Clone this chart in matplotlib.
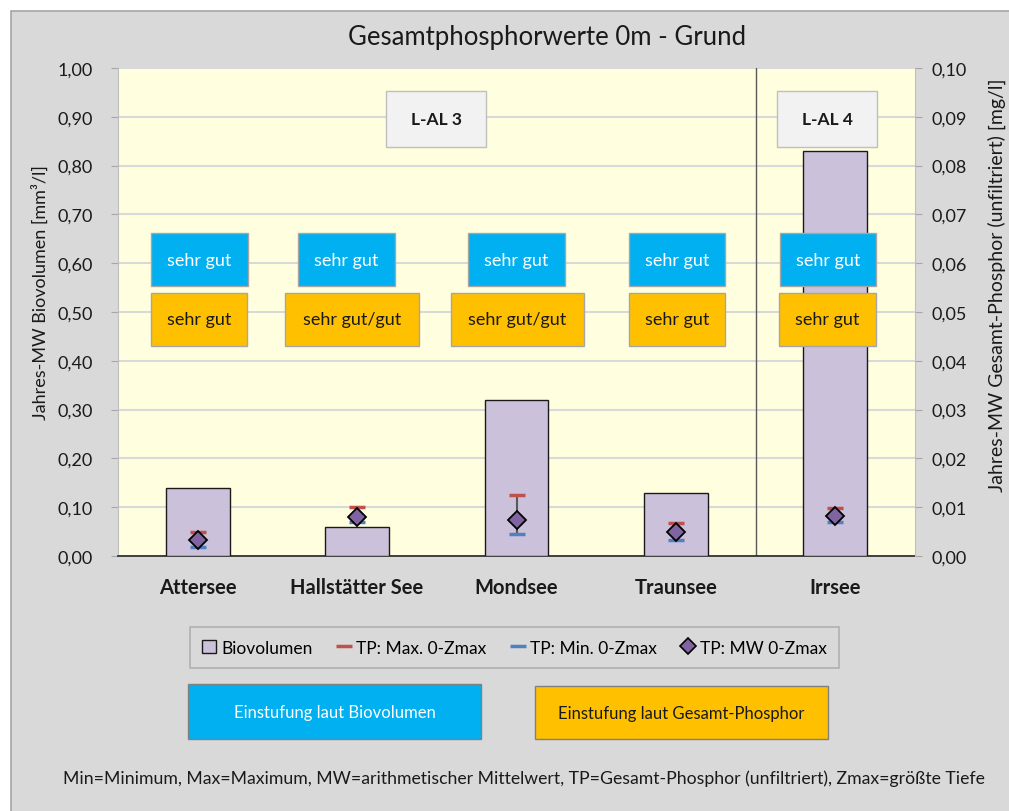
import matplotlib.pyplot as plt
from matplotlib.patches import Rectangle
from matplotlib.lines import Line2D

plt.rcParams['font.family'] = ['Lato', 'DejaVu Sans']

# data
lakes = ["Attersee", "Hallstätter See", "Mondsee", "Traunsee", "Irrsee"]
biovolumen = [0.14, 0.06, 0.32, 0.13, 0.83]          # mm³/l (left axis)
tp_max = [0.0050, 0.0101, 0.0125, 0.0067, 0.0098]     # mg/l (right axis)
tp_min = [0.0018, 0.0070, 0.0045, 0.0033, 0.0070]
tp_mw = [0.0033, 0.0079, 0.0074, 0.0049, 0.0081]
class_bio = ["sehr gut", "sehr gut", "sehr gut", "sehr gut", "sehr gut"]
class_tp = ["sehr gut", "sehr gut/gut", "sehr gut/gut", "sehr gut", "sehr gut"]
groups = ["L-AL 3", "L-AL 4"]

# box placement (data units), as drawn in the original
bio_box_x = [0.011, 0.934, 2.0, 3.007, 3.954]
tp_box_x = [0.008, 0.968, 2.006, 3.007, 3.951]
group_box_x = [1.495, 3.95]

W, H = 1009, 812
fig = plt.figure(figsize=(W / 100, H / 100), dpi=100)
fig.patch.set_facecolor("white")

# chart area background
fig.patches.append(Rectangle((11 / W, -0.05), 1.1, 1 - 12 / H + 0.05,
                             transform=fig.transFigure, facecolor="#d9d9d9",
                             edgecolor="#a6a6a6", lw=1.2, zorder=-10))

ax = fig.add_axes([118 / W, 1 - 557 / H, (915 - 118) / W, (557 - 69) / H])
ax.set_facecolor("#ffffe0")
x = range(len(lakes))

ax.bar(x, biovolumen, width=0.4, color="#ccc1da", edgecolor="#1a1a1a", lw=1, zorder=3)
ax.set_xlim(-0.5, 4.5)
ax.set_ylim(0, 1.0)
ax.set_yticks([i / 10 for i in range(11)])
ax.set_yticklabels([f"{i / 10:.2f}".replace(".", ",") for i in range(11)], fontsize=13, color="#1a1a1a")
ax.set_xticks(list(x))
ax.set_xticklabels(lakes, fontsize=14.5, fontweight="bold", color="#1a1a1a")
ax.tick_params(axis="x", length=0, pad=15)
ax.tick_params(axis="y", length=5, color="#a6a6a6", pad=13)
ax.grid(axis="y", color="#d9d9d9", lw=1.5, zorder=0)
ax.set_axisbelow(True)
for s in ["top", "right"]:
    ax.spines[s].set_visible(False)
ax.spines["left"].set_color("#bfbfbf")
ax.spines["bottom"].set_color("#262626")
ax.spines["bottom"].set_linewidth(1.2)

# separator between groups
ax.axvline(3.5, color="#595959", lw=1, zorder=2)

# right axis (TP)
ax2 = ax.twinx()
ax2.set_ylim(0, 0.1)
ax2.set_yticks([i / 100 for i in range(11)])
ax2.set_yticklabels([f"{i / 100:.2f}".replace(".", ",") for i in range(11)], fontsize=13, color="#1a1a1a")
ax2.tick_params(axis="y", length=5, color="#a6a6a6", pad=7)
for s in ["top", "left", "bottom"]:
    ax2.spines[s].set_visible(False)
ax2.spines["right"].set_color("#bfbfbf")

ax2.vlines(x, tp_min, tp_max, color="#595959", lw=1.5, zorder=4)
ax2.plot(x, tp_max, ls="none", marker="_", ms=11, mew=2.5, color="#c0504d", zorder=5)
ax2.plot(x, tp_min, ls="none", marker="_", ms=11, mew=2.5, color="#4f81bd", zorder=5)
ax2.plot(x, tp_mw, ls="none", marker="D", ms=9, color="#8064a2", mec="black", mew=1.3, zorder=6)

# classification boxes
for i in x:
    bw = 0.608
    ax.add_patch(Rectangle((bio_box_x[i] - bw / 2, 0.553), bw, 0.109, facecolor="#00b0f0",
                           edgecolor="#a6a6a6", lw=1, zorder=7))
    ax.text(bio_box_x[i], 0.6075, class_bio[i], ha="center", va="center", fontsize=13,
            color="white", zorder=8)
    ow = 0.84 if "/" in class_tp[i] else 0.608
    ax.add_patch(Rectangle((tp_box_x[i] - ow / 2, 0.431), ow, 0.108, facecolor="#ffc000",
                           edgecolor="#a6a6a6", lw=1, zorder=7))
    ax.text(tp_box_x[i], 0.485, class_tp[i], ha="center", va="center", fontsize=13,
            color="#1a1a1a", zorder=8)

for g, c in zip(groups, group_box_x):
    ax.add_patch(Rectangle((c - 0.313, 0.838), 0.627, 0.115, facecolor="#f2f2f2",
                           edgecolor="#bfbfbf", lw=1, zorder=7))
    ax.text(c, 0.8955, g, ha="center", va="center", fontsize=12.5, fontweight="bold",
            color="#1a1a1a", zorder=8)

fig.text(547 / W, 1 - 37 / H, "Gesamtphosphorwerte 0m - Grund", ha="center", va="center",
         fontsize=18.5, color="#1a1a1a")
fig.text(40 / W, 1 - 293 / H, "Jahres-MW Biovolumen [mm³/l]", ha="center", va="center",
         rotation=90, fontsize=13, color="#1a1a1a")
fig.text(997 / W, 1 - 285 / H, "Jahres-MW Gesamt-Phosphor (unfiltriert) [mg/l]",
         ha="center", va="center", rotation=90, fontsize=14, color="#1a1a1a")

# legend
handles = [
    Rectangle((0, 0), 1, 1, facecolor="#ccc1da", edgecolor="#1a1a1a", lw=1),
    Line2D([], [], ls="none", marker="_", ms=11, mew=2.5, color="#c0504d"),
    Line2D([], [], ls="none", marker="_", ms=11, mew=2.5, color="#4f81bd"),
    Line2D([], [], ls="none", marker="D", ms=8, color="#8064a2", mec="black", mew=1.2),
]
labels = ["Biovolumen", "TP: Max. 0-Zmax", "TP: Min. 0-Zmax", "TP: MW 0-Zmax"]
leg = fig.legend(handles, labels, ncol=4, loc="center", bbox_to_anchor=(514.5 / W, 1 - 648.5 / H),
                 fontsize=12.5, frameon=True, fancybox=False, handlelength=0.8, handletextpad=0.3,
                 columnspacing=1.4, borderpad=0.7)
leg.get_frame().set_facecolor("#d9d9d9")
leg.get_frame().set_edgecolor("#a6a6a6")
leg.get_frame().set_linewidth(1.2)

# legend boxes for classification colours
fig.patches.append(Rectangle((188 / W, 1 - 740 / H), 293 / W, 55 / H, transform=fig.transFigure,
                             facecolor="#00b0f0", edgecolor="#808080", lw=1))
fig.text(334.5 / W, 1 - 713 / H, "Einstufung laut Biovolumen", ha="center", va="center",
         fontsize=12, color="white")
fig.patches.append(Rectangle((535 / W, 1 - 740 / H), 293 / W, 53 / H, transform=fig.transFigure,
                             facecolor="#ffc000", edgecolor="#808080", lw=1))
fig.text(681.5 / W, 1 - 714 / H, "Einstufung laut Gesamt-Phosphor", ha="center", va="center",
         fontsize=12, color="#1a1a1a")

fig.text(524 / W, 1 - 779 / H,
         "Min=Minimum, Max=Maximum, MW=arithmetischer Mittelwert, TP=Gesamt-Phosphor (unfiltriert), Zmax=größte Tiefe",
         ha="center", va="center", fontsize=12.7, color="#1a1a1a")

fig.savefig("out.png", dpi=100)
